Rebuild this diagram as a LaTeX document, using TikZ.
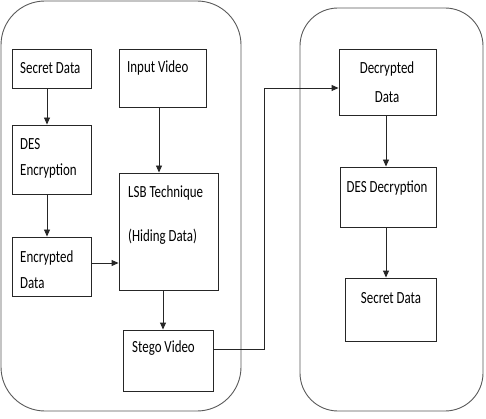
\documentclass[tikz,border=0pt]{standalone}
\usepackage{fontspec}
\setmainfont{Carlito}[FakeStretch=0.76]
\usetikzlibrary{arrows.meta,positioning,calc}

\begin{document}
\begin{tikzpicture}[x=1pt,y=-1pt,
  panel/.style={draw=black!65,line width=0.9pt},
  blk/.style={draw=black!85,line width=0.9pt,inner sep=0pt},
  lbl/.style={font=\fontsize{17}{26}\selectfont,inner sep=0pt,anchor=west,align=left},
  clbl/.style={font=\fontsize{17}{26}\selectfont,inner sep=0pt,align=center},
  flow/.style={-{Triangle[length=7pt,width=6pt]},line width=0.9pt,black!85}]
\useasboundingbox (0,0) rectangle (486,419);
% sender and receiver panels
\draw[panel,rounded corners=44pt] (1,1) rectangle (241,411);
\draw[panel,rounded corners=38pt] (300,8) rectangle (483,411);
% sender side
\node[blk,minimum width=79pt,minimum height=39pt] (sdata) at (51.5,68.5) {};
\node[blk,minimum width=79pt,minimum height=69pt] (desenc) at (51.5,159.5) {};
\node[blk,minimum width=79pt,minimum height=59pt] (encdata) at (51.5,266.5) {};
\node[blk,minimum width=87pt,minimum height=58pt] (invideo) at (162.5,78) {};
\node[blk,minimum width=99pt,minimum height=117pt] (lsb) at (168.5,231.5) {};
\node[blk,minimum width=90pt,minimum height=61pt] (stego) at (168,360.5) {};
\node[lbl] (sdatatxt) at (20,68) {Secret Data};
\node[lbl] (desenctxt) at (20,158.5) {DES\\Encryption};
\node[lbl] (encdatatxt) at (20,269.5) {Encrypted\\Data};
\node[lbl] (invideotxt) at (127,68) {Input Video};
\node[lbl] (lsbtxt) at (128,193) {LSB Technique};
\node[lbl] (hidetxt) at (128,237) {(Hiding Data)};
\node[lbl] (stegotxt) at (132,348) {Stego Video};
% receiver side
\node[blk,minimum width=97pt,minimum height=66pt] (decdata) at (387.5,82) {};
\node[blk,minimum width=96pt,minimum height=60pt] (desdec) at (388,197) {};
\node[blk,minimum width=91pt,minimum height=63pt] (sdata2) at (390.5,309.5) {};
\node[clbl] (decdatatxt) at (387,82.5) {Decrypted\\[3pt]Data};
\node[clbl] (desdectxt) at (387,188) {DES Decryption};
\node[clbl] (sdata2txt) at (391,298) {Secret Data};
\coordinate (bend) at (264,88);
% arrows
\draw[flow] ([xshift=-4.5pt]sdata.south) -- ([xshift=-4.5pt]desenc.north);
\draw[flow] ([xshift=-4.5pt]desenc.south) -- ([xshift=-4.5pt]encdata.north);
\draw[flow] ([xshift=-3.5pt]invideo.south) -- ([xshift=-3.5pt]invideo.south |- lsb.north);
\draw[flow] ([yshift=3.5pt]encdata.east) -- ([yshift=3.5pt]encdata.east -| lsb.west);
\draw[flow] ([xshift=-5.5pt]lsb.south) -- ([xshift=-5.5pt]lsb.south |- stego.north);
\draw[flow] ([yshift=11.5pt]stego.east) -| (bend) -- (bend -| decdata.west);
\draw[flow] ([xshift=-1.5pt]decdata.south) -- ([xshift=-1.5pt]decdata.south |- desdec.north);
\draw[flow] ([xshift=-2pt]desdec.south) -- ([xshift=-2pt]desdec.south |- sdata2.north);
\end{tikzpicture}
\end{document}
